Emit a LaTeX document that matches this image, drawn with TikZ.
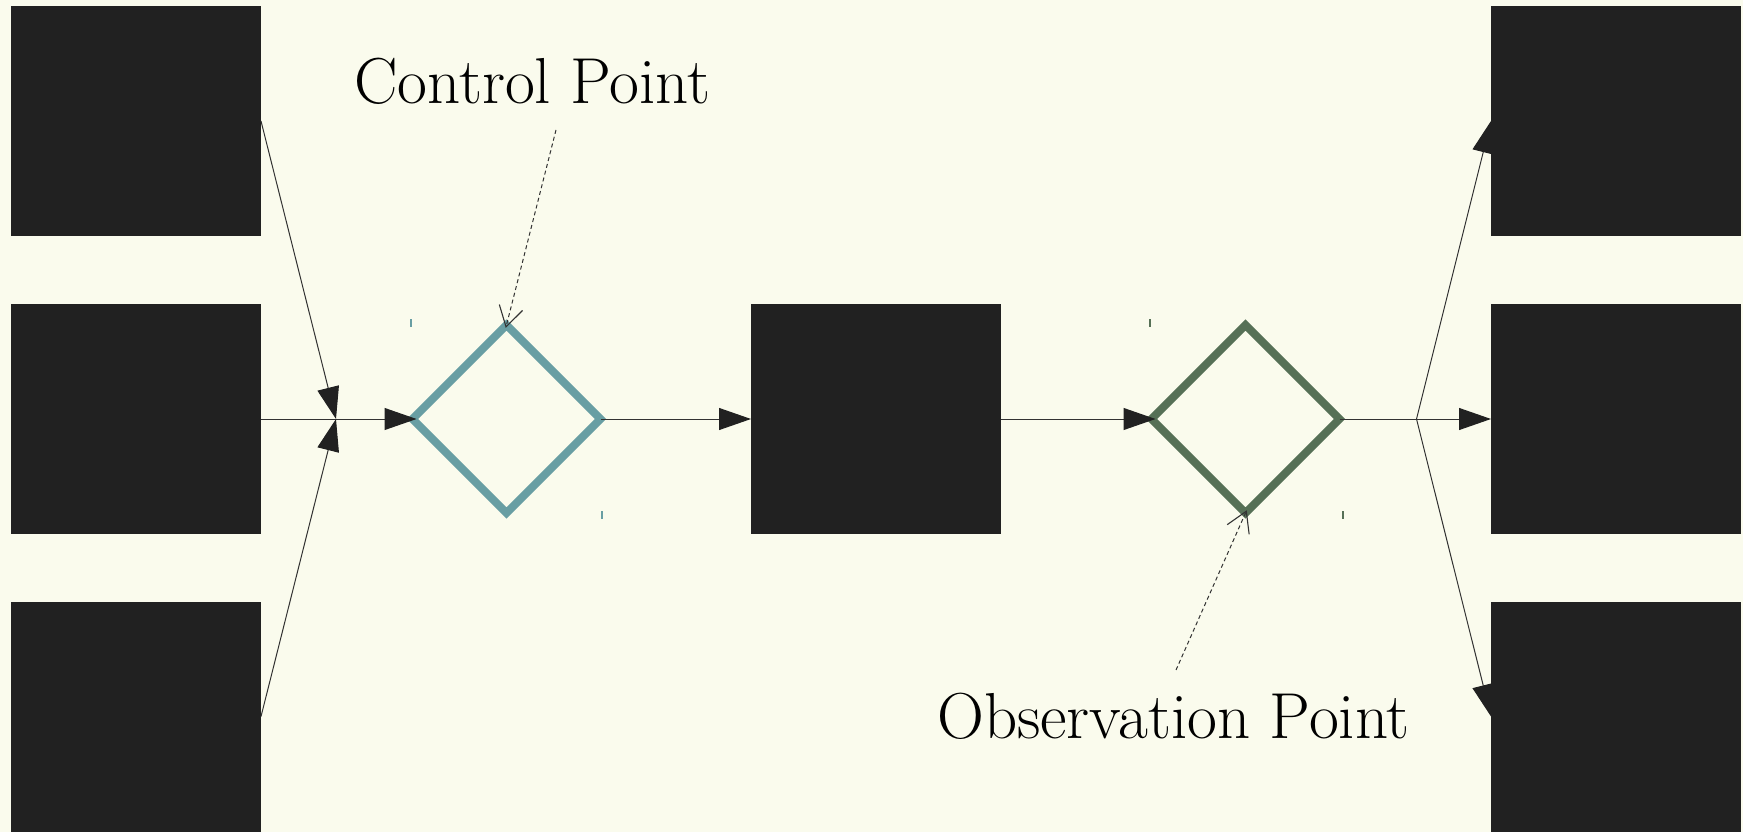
\documentclass[tikz,border=0pt]{standalone}
\usetikzlibrary{arrows.meta,shapes.geometric}
\definecolor{bgc}{RGB}{250,251,237}
\definecolor{boxc}{RGB}{33,33,33}
\definecolor{tealc}{RGB}{104,158,163}
\definecolor{greenc}{RGB}{86,112,86}
\definecolor{linec}{RGB}{50,50,50}
\definecolor{headc}{RGB}{33,33,33}
\tikzset{
  blk/.style={rectangle,fill=boxc,minimum width=250pt,minimum height=230pt,inner sep=0pt,outer sep=0pt},
  dmd/.style={diamond,aspect=1,minimum width=188pt,minimum height=188pt,inner sep=0pt,outer sep=0pt,line width=8pt,fill=bgc,line join=miter},
  conn/.style={draw=linec,line width=1pt},
  flow/.style={conn,-{Triangle[length=32pt,width=22pt,color=headc]}},
  tovertex/.style={shorten >=-4pt},
  callout/.style={draw=linec,line width=1pt,dash pattern=on 4pt off 3pt,-{Straight Barb[length=20pt,width=24pt,line width=1.1pt]},shorten >=-3pt},
  lbl/.style={font=\fontsize{65}{72}\selectfont,inner sep=0pt,anchor=base west,text=black},
  tick/.style={line width=1.3pt}
}
\begin{document}
\begin{tikzpicture}[x=1pt,y=-1pt]
\fill[bgc] (0,0) rectangle (1743,832);
\useasboundingbox (0,0) rectangle (1743,832);
% blocks
\node[blk] (L1) at (136,121) {};
\node[blk] (L2) at (136,419) {};
\node[blk] (L3) at (136,716.5) {};
\node[blk] (M) at (876,419) {};
% junctions
\coordinate (j) at (336,419);
\coordinate (s) at (1416.5,419);
% diamonds
\node[dmd,draw=tealc] (d1) at (506.5,419) {};
\node[dmd,draw=greenc] (d2) at (1245.5,419) {};
% corner ticks
\draw[tick,tealc] ([shift={(-95.5,-100)}]d1.center) -- ++(0,8);
\draw[tick,tealc] ([shift={(95.5,92)}]d1.center) -- ++(0,8);
\draw[tick,greenc] ([shift={(-95.5,-100)}]d2.center) -- ++(0,8);
\draw[tick,greenc] ([shift={(97.5,92)}]d2.center) -- ++(0,8);
% connectors
\draw[flow] (L1.east) -- (j);
\draw[flow] (L3.east) -- (j);
\draw[flow,tovertex] (L2.east) -- (d1.west);
\draw[flow] (d1.east) -- (M.west);
\draw[flow,tovertex] (M.east) -- (d2.west);
\draw[conn] (d2.east) -- (s);
\draw[flow] (s) -- (1491,121);
\draw[flow] (s) -- (1491,419);
\draw[flow] (s) -- (1491,716.5);
% right blocks (drawn over arrow ends)
\node[blk] (R1) at (1616,121) {};
\node[blk] (R2) at (1616,419) {};
\node[blk] (R3) at (1616,716.5) {};
% labels
\node[lbl] (cp) at (354,104) {Control Point};
\node[lbl] (op) at (937,738) {Observation Point};
\coordinate (cpa) at (556,130);
\coordinate (opa) at (1176,670);
\draw[callout] (cpa) -- (d1.north);
\draw[callout] (opa) -- (d2.south);
\end{tikzpicture}
\end{document}
